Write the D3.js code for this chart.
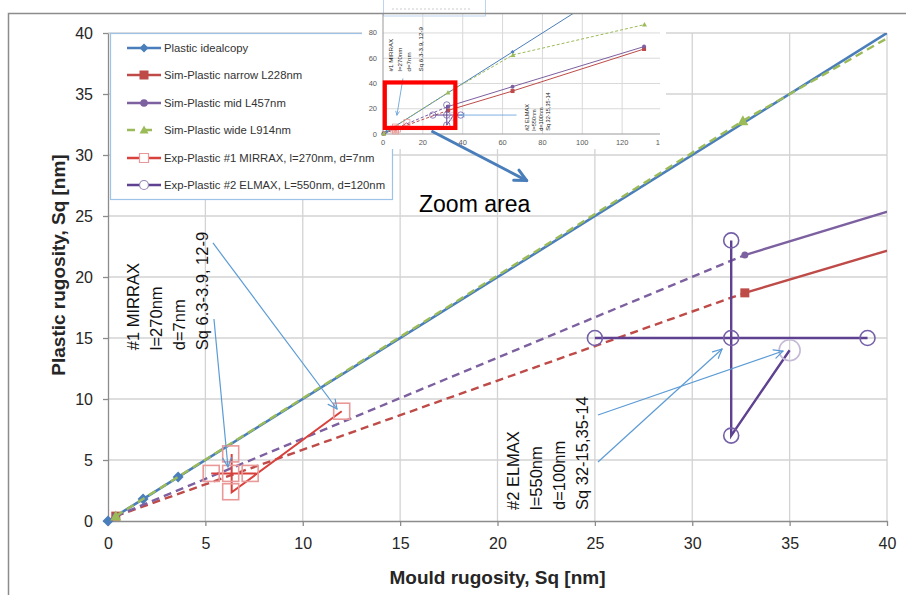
<!DOCTYPE html>
<html><head><meta charset="utf-8">
<script src="https://cdn.jsdelivr.net/npm/d3@7"></script>
<style>body{margin:0;background:#fff} svg{display:block} text{font-family:"Liberation Sans",Arial,sans-serif}</style>
</head><body><svg id="c" width="906" height="595"></svg>
<script>
// ---------- data ----------
const xTicks=[0,5,10,15,20,25,30,35,40];
const yTicks=[0,5,10,15,20,25,30,35,40];
const idealX=[0,1.8,3.6,65,131];
const idealY=[0,1.8,3.6,65,131];
const simX=[0.4,32.7,65,131];
const narrowY=[0.4,18.7,34,67.3];
const midY=[0.4,21.8,37.5,69.2];
const wideX=[0.4,32.6,65.2,131.2];
const wideY=[0.4,32.8,62.6,86.6];
const mirraxX=[5.3,6.3,7.3,6.3,6.3,12];
const mirraxY=[3.9,3.9,3.9,5.5,2.4,9];
const mirraxPathX=[5.3,7.6,null,6.35,6.35,12];
const mirraxPathY=[3.9,3.9,null,5.5,2.35,9];
const elmaxX=[25,32,39,32,32,35];
const elmaxY=[15,15,15,23,7,14];
const elmaxPathX=[25,39,null,32,32,35];
const elmaxPathY=[15,15,null,23,7,14];
const legendLabels=["Plastic idealcopy","Sim-Plastic narrow L228nm","Sim-Plastic mid L457nm","Sim-Plastic wide L914nm","Exp-Plastic #1 MIRRAX, l=270nm, d=7nm","Exp-Plastic #2 ELMAX, L=550nm, d=120nm"];
const mirraxNote=["#1 MIRRAX","l=270nm","d=7nm","Sq 6.3-3.9, 12-9"];
const elmaxNote=["#2 ELMAX","l=550nm","d=100nm","Sq 32-15,35-14"];
const insetXTicks=[0,20,40,60,80,100,120,140];
const insetYTicks=[0,20,40,60,80];

// ---------- colours ----------
const C={blue:"#4a7ebb",red:"#be4b48",purple:"#7d60a0",green:"#9bbb59",expRed:"#d8413c",expRedMk:"#e99a98",expPur:"#5e4190",expPurMk:"#7560a8",note:"#5b9bd5",grid:"#d3d3d3",axis:"#8c8c8c",text:"#262626"};

const svg=d3.select("#c");
const x=d3.scaleLinear().domain([0,40]).range([108,887]);
const y=d3.scaleLinear().domain([0,40]).range([521,33]);

// grid
svg.append("g").selectAll("line").data(xTicks.slice(1)).join("line")
  .attr("x1",d=>x(d)).attr("x2",d=>x(d)).attr("y1",y(0)).attr("y2",y(40)).attr("stroke",C.grid).attr("stroke-width",1.3);
svg.append("g").selectAll("line").data(yTicks.slice(1)).join("line")
  .attr("y1",d=>y(d)).attr("y2",d=>y(d)).attr("x1",x(0)).attr("x2",x(40)).attr("stroke",C.grid).attr("stroke-width",1.3);

// axes
const ax=svg.append("g").attr("transform",`translate(0,${y(0)})`).call(d3.axisBottom(x).tickValues(xTicks).tickSize(5).tickSizeOuter(0).tickPadding(12));
const ay=svg.append("g").attr("transform",`translate(${x(0)},0)`).call(d3.axisLeft(y).tickValues(yTicks).tickSize(5).tickSizeOuter(0).tickPadding(10));
[ax,ay].forEach(a=>{a.selectAll("path,line").attr("stroke",C.axis).attr("stroke-width",1.3);a.selectAll("text").attr("font-size",16).attr("fill",C.text).attr("font-family","Liberation Sans, Arial");});

// axis titles
svg.append("text").attr("x",(x(0)+x(40))/2).attr("y",584).attr("text-anchor","middle").attr("font-weight","bold").attr("font-size",19).attr("fill",C.text).text("Mould rugosity, Sq [nm]");
svg.append("text").attr("transform",`translate(58,${(y(0)+y(40))/2-12}) rotate(-90)`).attr("text-anchor","middle").attr("dominant-baseline","central").attr("font-weight","bold").attr("font-size",19).attr("fill",C.text).text("Plastic rugosity, Sq [nm]");

// clip
svg.append("clipPath").attr("id","pc").append("rect").attr("x",x(0)).attr("y",y(40)).attr("width",x(40)-x(0)).attr("height",y(0)-y(40));

function arrow(g,x1,y1,x2,y2,col,w,hl){
  g.append("line").attr("x1",x1).attr("y1",y1).attr("x2",x2).attr("y2",y2).attr("stroke",col).attr("stroke-width",w);
  const a=Math.atan2(y2-y1,x2-x1);
  [0.45,-0.45].forEach(s=>{g.append("line").attr("x1",x2).attr("y1",y2).attr("x2",x2-hl*Math.cos(a+s)).attr("y2",y2-hl*Math.sin(a+s)).attr("stroke",col).attr("stroke-width",w).attr("stroke-linecap","round");});
}
const sq=s=>`M${-s},${-s}h${2*s}v${2*s}h${-2*s}Z`;
const dia=s=>`M0,${-s}L${s},0L0,${s}L${-s},0Z`;
const tri=s=>`M0,${-s}L${s},${s*0.8}L${-s},${s*0.8}Z`;

function drawSeries(g,sx,sy,xs,ys,o){
  const pts=xs.map((v,i)=>[v,ys[i]]);
  const line=d3.line().x(d=>sx(d[0])).y(d=>sy(d[1]));
  const lg=g.append("g").attr("clip-path",o.clip);
  if(o.dashFirst){
    lg.append("path").attr("d",line(pts.slice(0,2))).attr("fill","none").attr("stroke",o.col).attr("stroke-width",o.w).attr("stroke-dasharray",o.dash);
    lg.append("path").attr("d",line(pts.slice(1))).attr("fill","none").attr("stroke",o.col).attr("stroke-width",o.w).attr("stroke-dasharray",o.allDash?o.dash:null);
  } else {
    lg.append("path").attr("d",line(pts)).attr("fill","none").attr("stroke",o.col).attr("stroke-width",o.w);
  }
  g.append("g").selectAll("path").data(pts.filter(p=>sx(p[0])<=o.maxX && sy(p[1])>=o.minY)).join("path")
    .attr("transform",d=>`translate(${sx(d[0])},${sy(d[1])})`).attr("d",o.mk).attr("fill",o.col);
}

const main=svg.append("g");
const mo={clip:"url(#pc)",maxX:x(40)+1,minY:y(40)-1};
drawSeries(main,x,y,idealX,idealY,{...mo,col:C.blue,w:2.6,mk:dia(5.5)});
drawSeries(main,x,y,simX,narrowY,{...mo,col:C.red,w:2.4,dashFirst:true,dash:"8,5",mk:sq(4.5)});
drawSeries(main,x,y,simX,midY,{...mo,col:C.purple,w:2.4,dashFirst:true,dash:"8,5",mk:"M0,0m-3.5,0a3.5,3.5 0 1,0 7,0a3.5,3.5 0 1,0 -7,0"});
drawSeries(main,x,y,wideX,wideY,{...mo,col:C.green,w:2.4,dashFirst:true,allDash:true,dash:"8,5",mk:tri(5.5)});

// experimental #1
const defLine=(sx,sy)=>d3.line().defined(d=>d[0]!=null).x(d=>sx(d[0])).y(d=>sy(d[1]));
main.append("path").attr("d",defLine(x,y)(mirraxPathX.map((v,i)=>[v,mirraxPathY[i]]))).attr("fill","none").attr("stroke",C.expRed).attr("stroke-width",2);
main.append("g").selectAll("rect").data(mirraxX.map((v,i)=>[v,mirraxY[i]])).join("rect")
  .attr("x",d=>x(d[0])-8).attr("y",d=>y(d[1])-8).attr("width",16).attr("height",16).attr("fill","none").attr("stroke",C.expRedMk).attr("stroke-width",1.6);
// experimental #2
main.append("path").attr("d",defLine(x,y)(elmaxPathX.map((v,i)=>[v,elmaxPathY[i]]))).attr("fill","none").attr("stroke",C.expPur).attr("stroke-width",2.4);
main.append("g").selectAll("circle").data(elmaxX.map((v,i)=>[v,elmaxY[i],i])).join("circle")
  .attr("cx",d=>x(d[0])).attr("cy",d=>y(d[1])).attr("r",d=>d[2]===5?10.5:7.5).attr("fill","none")
  .attr("stroke",d=>d[2]===5?"#c4bad6":C.expPurMk).attr("stroke-width",1.6);

// annotations main (data coords)
const noteArrows=[[5.39,22.79,11.76,9.18],[5.44,16.56,6.16,4.43],[25.16,8.69,34.66,13.93],[25.16,4.84,31.53,14.1]];
noteArrows.forEach(a=>arrow(main,x(a[0]),y(a[1]),x(a[2]),y(a[3]),C.note,1.2,10));
const mirraxCols=[1.28,2.46,3.64,4.83], elmaxCols=[20.8,21.98,23.16,24.34];
mirraxNote.forEach((t,i)=>main.append("text").attr("transform",`translate(${x(mirraxCols[i])},${y(14.0)}) rotate(-90)`).attr("dominant-baseline","central").attr("font-size",16.5).attr("fill","#111").text(t));
elmaxNote.forEach((t,i)=>main.append("text").attr("transform",`translate(${x(elmaxCols[i])},${y(0.9)}) rotate(-90)`).attr("dominant-baseline","central").attr("font-size",16.5).attr("fill","#111").text(t));
main.append("text").attr("x",x(15.97)).attr("y",y(25.3)).attr("font-size",23).attr("fill","#000").text("Zoom area");

// ---------- legend ----------
const lg=svg.append("g");
lg.append("rect").attr("x",110.5).attr("y",33.5).attr("width",282).attr("height",166).attr("fill","#fff").attr("stroke","#9dc3e6").attr("stroke-width",1.2);
const rowsY=[48,75,103,130,158,185];
const lcol=[C.blue,C.red,C.purple,C.green,C.expRed,C.expPur];
legendLabels.forEach((t,i)=>{
  const yy=rowsY[i];
  if(i===3){
    lg.append("line").attr("x1",127).attr("x2",161).attr("y1",yy).attr("y2",yy).attr("stroke",C.green).attr("stroke-width",2.4).attr("stroke-dasharray","8,9");
  } else lg.append("line").attr("x1",127).attr("x2",161).attr("y1",yy).attr("y2",yy).attr("stroke",lcol[i]).attr("stroke-width",2.4);
  const m=lg.append("g").attr("transform",`translate(144,${yy})`);
  if(i===0) m.append("path").attr("d",dia(4.5)).attr("fill",C.blue);
  if(i===1) m.append("path").attr("d",sq(4.5)).attr("fill",C.red);
  if(i===2) m.append("circle").attr("r",3.8).attr("fill",C.purple);
  if(i===3) m.append("path").attr("d",tri(4.5)).attr("fill",C.green);
  if(i===4) m.append("path").attr("d",sq(4.5)).attr("fill","#fff").attr("stroke",C.expRedMk).attr("stroke-width",1.2);
  if(i===5) m.append("circle").attr("r",4.5).attr("fill","#fff").attr("stroke","#9585b8").attr("stroke-width",1.2);
  lg.append("text").attr("x",164).attr("y",yy).attr("dominant-baseline","central").attr("font-size",11.3).attr("fill","#333").text(t);
});

// ---------- inset ----------
const ins=svg.append("g");
ins.append("rect").attr("x",362).attr("y",0).attr("width",304).attr("height",149).attr("fill","#fff");
const ix=d3.scaleLinear().domain([0,140]).range([383,662]);
const iy=d3.scaleLinear().domain([0,95]).range([134,14]);
svg.append("clipPath").attr("id","ic").append("rect").attr("x",ix(0)).attr("y",iy(95)).attr("width",ix(140)-ix(0)).attr("height",iy(0)-iy(95));
svg.append("clipPath").attr("id","iw").append("rect").attr("x",362).attr("y",0).attr("width",298).attr("height",149);
const ib=ins.append("g").attr("clip-path","url(#iw)");
ib.append("rect").attr("x",383.5).attr("y",-6).attr("width",102).attr("height",22).attr("fill","#fff").attr("stroke","#bcd5ee");
ib.append("line").attr("x1",392).attr("x2",470).attr("y1",9).attr("y2",9).attr("stroke","#ccc").attr("stroke-dasharray","2,2");
ib.selectAll(".ivg").data(insetXTicks.slice(1)).join("line").attr("x1",d=>ix(d)).attr("x2",d=>ix(d)).attr("y1",iy(0)).attr("y2",iy(95)).attr("stroke","#d9d9d9");
ib.selectAll(".ihg").data(insetYTicks.slice(1)).join("line").attr("y1",d=>iy(d)).attr("y2",d=>iy(d)).attr("x1",ix(0)).attr("x2",ix(140)).attr("stroke","#d9d9d9");
ib.append("line").attr("x1",ix(0)).attr("x2",ix(140)).attr("y1",iy(0)).attr("y2",iy(0)).attr("stroke","#999");
ib.append("line").attr("x1",ix(0)).attr("x2",ix(0)).attr("y1",iy(0)).attr("y2",iy(95)).attr("stroke","#999");
ib.selectAll(".ixl").data(insetXTicks).join("text").attr("x",d=>ix(d)).attr("y",iy(0)+11).attr("text-anchor","middle").attr("font-size",7.5).attr("fill","#595959").text(d=>d);
ib.selectAll(".iyl").data(insetYTicks).join("text").attr("x",ix(0)-6).attr("y",d=>iy(d)).attr("text-anchor","end").attr("dominant-baseline","central").attr("font-size",7.5).attr("fill","#595959").text(d=>d);
const io={clip:"url(#ic)",maxX:ix(140),minY:iy(95)};
drawSeries(ib,ix,iy,idealX,idealY,{...io,col:C.blue,w:1,mk:dia(2)});
drawSeries(ib,ix,iy,simX,narrowY,{...io,col:C.red,w:1,dashFirst:true,dash:"3,2",mk:sq(2)});
drawSeries(ib,ix,iy,simX,midY,{...io,col:C.purple,w:1,dashFirst:true,dash:"3,2",mk:"M0,0m-2,0a2,2 0 1,0 4,0a2,2 0 1,0 -4,0"});
drawSeries(ib,ix,iy,wideX,wideY,{...io,col:C.green,w:1,dashFirst:true,allDash:true,dash:"3,2",mk:tri(2.5)});
ib.append("path").attr("d",defLine(ix,iy)(mirraxPathX.map((v,i)=>[v,mirraxPathY[i]]))).attr("fill","none").attr("stroke",C.expRed).attr("stroke-width",0.8);
ib.append("g").selectAll("rect").data(mirraxX.map((v,i)=>[v,mirraxY[i]])).join("rect")
  .attr("x",d=>ix(d[0])-3).attr("y",d=>iy(d[1])-3).attr("width",6).attr("height",6).attr("fill","none").attr("stroke",C.expRedMk).attr("stroke-width",0.8);
ib.append("path").attr("d",defLine(ix,iy)(elmaxPathX.map((v,i)=>[v,elmaxPathY[i]]))).attr("fill","none").attr("stroke",C.expPur).attr("stroke-width",1);
ib.append("g").selectAll("circle").data(elmaxX.map((v,i)=>[v,elmaxY[i],i])).join("circle")
  .attr("cx",d=>ix(d[0])).attr("cy",d=>iy(d[1])).attr("r",d=>d[2]===5?4:3.2).attr("fill","none").attr("stroke",d=>d[2]===5?"#c4bad6":C.expPurMk).attr("stroke-width",0.8);
// inset annotations
const insetMirCols=[4,8.5,13,18.8], insetElmCols=[72.5,76,79.3,83];
mirraxNote.forEach((t,i)=>ib.append("text").attr("transform",`translate(${ix(insetMirCols[i])},${iy(49.5)}) rotate(-90)`).attr("dominant-baseline","central").attr("font-size",6.2).attr("fill","#222").text(t));
elmaxNote.forEach((t,i)=>ib.append("text").attr("transform",`translate(${ix(insetElmCols[i])},${iy(2.5)}) rotate(-90)`).attr("dominant-baseline","central").attr("font-size",5.6).attr("fill","#222").text(t));
arrow(ib,ix(10),iy(44),ix(7),iy(15),C.note,0.8,4);
arrow(ib,ix(67),iy(15),ix(39),iy(15),C.note,0.8,4);
// zoom rectangle
ib.append("rect").attr("x",ix(0.9)).attr("y",iy(40.8)).attr("width",ix(36.3)-ix(0.9)).attr("height",iy(4.8)-iy(40.8)).attr("fill","none").attr("stroke","#ff0000").attr("stroke-width",4.2);
// thick arrow from inset to zoom area
arrow(svg,ix(24.3),iy(2.4),x(21.5),y(27.9),"#4a7ebb",3,13);

// outer frame on top
svg.append("path").attr("d","M8.5,595V13.5H906").attr("fill","none").attr("stroke","#8c8c8c").attr("stroke-width",1.5);
</script></body></html>
